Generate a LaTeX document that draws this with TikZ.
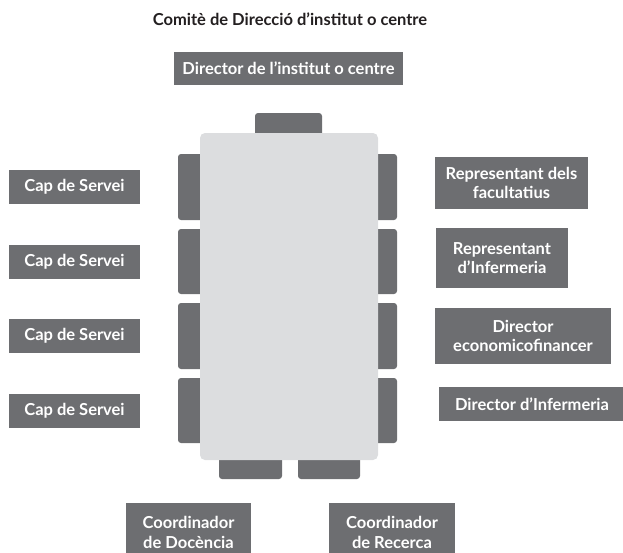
\documentclass[tikz,border=0pt]{standalone}
\usepackage{fontspec}
\setmainfont{Lato}
\usepackage{tikz}
\usetikzlibrary{positioning}
\definecolor{seatgray}{HTML}{6D6E71}
\definecolor{tablegray}{HTML}{DCDDDF}
\definecolor{titletext}{HTML}{231F20}

\begin{document}
\begin{tikzpicture}[x=1pt, y=-1pt,
    member/.style={rectangle, fill=seatgray, text=white, inner sep=0pt, align=center, font=\fontsize{16.5}{19.5}\selectfont\bfseries},
    seat/.style={rectangle, fill=seatgray, rounded corners=3pt, inner sep=0pt},
    board/.style={rectangle, fill=tablegray, rounded corners=5pt, inner sep=0pt}
]
    \useasboundingbox (0,0) rectangle (623,552);

    \node[font=\fontsize{16.5}{19}\selectfont\bfseries, text=titletext] (titol) at (290,19) {Comitè de Direcció d’institut o centre};

    % Seats
    \node[seat, minimum width=67, minimum height=32] (seatT) at (288.5,129) {};
    \node[seat, minimum width=32, minimum height=66] (seatL1) at (194,187) {};
    \node[seat, minimum width=32, minimum height=65] (seatL2) at (194,261.5) {};
    \node[seat, minimum width=32, minimum height=66] (seatL3) at (194,336) {};
    \node[seat, minimum width=32, minimum height=65] (seatL4) at (194,410.5) {};
    \node[seat, minimum width=30, minimum height=66] (seatR1) at (382,187) {};
    \node[seat, minimum width=30, minimum height=65] (seatR2) at (382,261.5) {};
    \node[seat, minimum width=30, minimum height=66] (seatR3) at (382,336) {};
    \node[seat, minimum width=30, minimum height=65] (seatR4) at (382,410.5) {};
    \node[seat, minimum width=63, minimum height=29] (seatB1) at (250.5,464.5) {};
    \node[seat, minimum width=62, minimum height=29] (seatB2) at (329,464.5) {};

    \node[board, minimum width=178, minimum height=327] (taula) at (289,296.5) {};

    % Members
    \node[member, minimum width=229, minimum height=33] (director) at (288.5,68.5) {Director de l’institut o centre};
    \node[member, minimum width=131, minimum height=34] (cap1) at (74.5,187) {Cap de Servei};
    \node[member, minimum width=131, minimum height=34] (cap2) at (74.5,262) {Cap de Servei};
    \node[member, minimum width=131, minimum height=34] (cap3) at (74.5,336) {Cap de Servei};
    \node[member, minimum width=131, minimum height=34] (cap4) at (74.5,411) {Cap de Servei};
    \node[member, minimum width=153, minimum height=52] (repFac) at (511.5,183) {Representant dels\\facultatius};
    \node[member, minimum width=132, minimum height=60] (repInf) at (502,258) {Representant\\d’Infermeria};
    \node[member, minimum width=176, minimum height=56] (dirEco) at (523,336) {Director\\economicofinancer};
    \node[member, minimum width=186, minimum height=34] (dirInf) at (532,404) {Director d’Infermeria};
    \node[member, minimum width=125, minimum height=59] (coordDoc) at (188.5,532.5) {Coordinador\\de Docència};
    \node[member, minimum width=126, minimum height=59] (coordRec) at (392,532.5) {Coordinador\\de Recerca};
\end{tikzpicture}
\end{document}
